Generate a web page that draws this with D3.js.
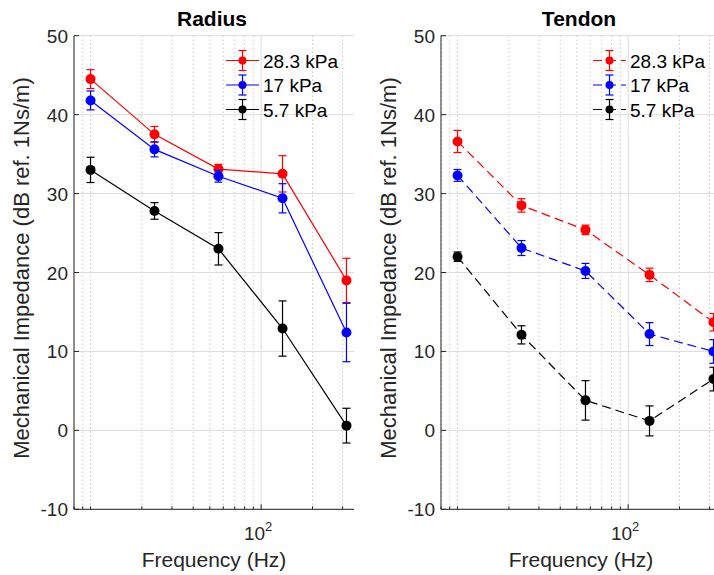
<!DOCTYPE html>
<html>
<head>
<meta charset="utf-8">
<script src="https://cdn.jsdelivr.net/npm/d3@7"></script>
<style>
  body { margin: 0; background: #fff; }
  svg { display: block; }
  text { font-family: "Liberation Sans", Arial, Helvetica, sans-serif; }
</style>
</head>
<body>
<svg id="chart" width="714" height="575"></svg>
<script>
// Stimulation frequencies (Hz)
const frequencies = [10, 23.7, 56.2, 133.4, 316.2];
const seriesLabels = ["28.3 kPa", "17 kPa", "5.7 kPa"];
const seriesColors = ["#ff0000", "#0000ff", "#000000"];

// Radius site: mean impedance and error (dB ref. 1 Ns/m)
const radiusHigh = [44.5, 37.5, 33.1, 32.5, 19.0];
const radiusHighErr = [1.2, 1.0, 0.6, 2.3, 2.8];
const radiusMid = [41.8, 35.6, 32.2, 29.4, 12.4];
const radiusMidErr = [1.2, 0.95, 0.75, 1.85, 3.7];
const radiusLow = [33.0, 27.8, 23.0, 12.9, 0.6];
const radiusLowErr = [1.6, 1.05, 2.05, 3.5, 2.2];

// Tendon site
const tendonHigh = [36.6, 28.5, 25.4, 19.7, 13.7];
const tendonHighErr = [1.4, 0.85, 0.6, 0.85, 1.1];
const tendonMid = [32.3, 23.1, 20.2, 12.2, 10.0];
const tendonMidErr = [0.75, 0.95, 0.95, 1.45, 1.5];
const tendonLow = [22.0, 12.1, 3.8, 1.2, 6.5];
const tendonLowErr = [0.6, 1.15, 2.5, 1.9, 1.5];

// Axis ticks
const yTicks = [-10, 0, 10, 20, 30, 40, 50];
const xMajorTicks = [100];
const xMinorTicks = [8, 9, 10, 20, 30, 40, 50, 60, 70, 80, 90, 200, 300];
const xDomain = [8, 350];
const yDomain = [-10, 50];

const svg = d3.select("#chart");
svg.append("rect").attr("width", 714).attr("height", 575).attr("fill", "#fff");

const axisColor = "#262626";
const plotTop = 35.7, plotBottom = 509.3;

function buildSeries(means, errs) {
  return frequencies.map((f, i) => ({ f, v: means[i], e: errs[i] }));
}

function drawPanel(opts) {
  const { x0, x1, title, series, dashed } = opts;
  const x = d3.scaleLog().domain(xDomain).range([x0, x1]);
  const y = d3.scaleLinear().domain(yDomain).range([plotBottom, plotTop]);
  const g = svg.append("g");

  // Minor x grid (dotted)
  g.append("g").selectAll("line").data(xMinorTicks).join("line")
    .attr("x1", d => x(d)).attr("x2", d => x(d))
    .attr("y1", plotTop).attr("y2", plotBottom)
    .attr("stroke", "#b4b4b4").attr("stroke-width", 1)
    .attr("stroke-dasharray", "1,3");

  // Major grid
  g.append("g").selectAll("line").data(yTicks).join("line")
    .attr("x1", x0).attr("x2", x1)
    .attr("y1", d => y(d)).attr("y2", d => y(d))
    .attr("stroke", "#dcdcdc").attr("stroke-width", 1);
  g.append("g").selectAll("line").data(xMajorTicks).join("line")
    .attr("x1", d => x(d)).attr("x2", d => x(d))
    .attr("y1", plotTop).attr("y2", plotBottom)
    .attr("stroke", "#dcdcdc").attr("stroke-width", 1);

  // Axes lines and inward ticks
  g.append("line").attr("x1", x0).attr("x2", x0).attr("y1", plotTop).attr("y2", plotBottom)
    .attr("stroke", axisColor).attr("stroke-width", 1);
  g.append("line").attr("x1", x0).attr("x2", x1).attr("y1", plotBottom).attr("y2", plotBottom)
    .attr("stroke", axisColor).attr("stroke-width", 1);
  g.append("g").selectAll("line").data(yTicks).join("line")
    .attr("x1", x0).attr("x2", x0 + 5)
    .attr("y1", d => y(d)).attr("y2", d => y(d))
    .attr("stroke", axisColor);
  g.append("g").selectAll("line").data(xMinorTicks).join("line")
    .attr("x1", d => x(d)).attr("x2", d => x(d))
    .attr("y1", plotBottom).attr("y2", plotBottom - 3)
    .attr("stroke", axisColor);
  g.append("g").selectAll("line").data(xMajorTicks).join("line")
    .attr("x1", d => x(d)).attr("x2", d => x(d))
    .attr("y1", plotBottom).attr("y2", plotBottom - 5)
    .attr("stroke", axisColor);

  // Tick labels
  g.append("g").selectAll("text").data(yTicks).join("text")
    .attr("x", x0 - 6).attr("y", d => y(d) + 7)
    .attr("text-anchor", "end").attr("font-size", 19).attr("fill", axisColor)
    .text(d => d);
  xMajorTicks.forEach(t => {
    const lbl = g.append("text").attr("x", x(t) - 3).attr("y", 540)
      .attr("text-anchor", "middle").attr("font-size", 19).attr("fill", axisColor);
    lbl.append("tspan").text("10");
    lbl.append("tspan").attr("font-size", 13).attr("dy", -9).text(String(Math.round(Math.log10(t))));
  });

  // Axis labels and title
  g.append("text").attr("x", (x0 + x1) / 2).attr("y", 567)
    .attr("text-anchor", "middle").attr("font-size", 21).attr("fill", axisColor)
    .text("Frequency (Hz)");
  g.append("text")
    .attr("transform", `translate(${x0 - 45},268) rotate(-90)`)
    .attr("text-anchor", "middle").attr("font-size", 22).attr("fill", axisColor)
    .text("Mechanical Impedance (dB ref. 1Ns/m)");
  g.append("text").attr("x", (x0 + x1) / 2 - 2).attr("y", 25.5)
    .attr("text-anchor", "middle").attr("font-size", 21).attr("font-weight", "bold")
    .attr("fill", "#000").text(title);

  // Data lines, error bars, markers
  const line = d3.line().x(d => x(d.f)).y(d => y(d.v));
  series.forEach((s, i) => {
    const color = seriesColors[i];
    const sg = g.append("g");
    sg.append("path").datum(s).attr("d", line)
      .attr("fill", "none").attr("stroke", color).attr("stroke-width", 1.2)
      .attr("stroke-dasharray", dashed ? "9,5" : null);
    const eb = sg.selectAll("g.eb").data(s).join("g").attr("class", "eb");
    eb.append("line")
      .attr("x1", d => x(d.f)).attr("x2", d => x(d.f))
      .attr("y1", d => y(d.v + d.e)).attr("y2", d => y(d.v - d.e))
      .attr("stroke", color).attr("stroke-width", 1.2);
    [1, -1].forEach(sgn => {
      eb.append("line")
        .attr("x1", d => x(d.f) - 4).attr("x2", d => x(d.f) + 4)
        .attr("y1", d => y(d.v + sgn * d.e)).attr("y2", d => y(d.v + sgn * d.e))
        .attr("stroke", color).attr("stroke-width", 1.2);
    });
    sg.selectAll("circle").data(s).join("circle")
      .attr("cx", d => x(d.f)).attr("cy", d => y(d.v)).attr("r", 5)
      .attr("fill", color);
  });

  // Legend
  const rows = [60.5, 85, 109.5];
  seriesLabels.forEach((label, i) => {
    const color = seriesColors[i];
    const ly = rows[i];
    const lg = g.append("g");
    lg.append("line").attr("x1", x0 + 152).attr("x2", x0 + 185)
      .attr("y1", ly).attr("y2", ly)
      .attr("stroke", color).attr("stroke-width", 1.2)
      .attr("stroke-dasharray", dashed ? "9,5" : null);
    const mx = x0 + 168.5;
    lg.append("line").attr("x1", mx).attr("x2", mx).attr("y1", ly - 10).attr("y2", ly + 10)
      .attr("stroke", color).attr("stroke-width", 1.2);
    [-10, 10].forEach(dy => {
      lg.append("line").attr("x1", mx - 4).attr("x2", mx + 4)
        .attr("y1", ly + dy).attr("y2", ly + dy)
        .attr("stroke", color).attr("stroke-width", 1.2);
    });
    lg.append("circle").attr("cx", mx).attr("cy", ly).attr("r", 4).attr("fill", color);
    lg.append("text").attr("x", x0 + 189).attr("y", ly + 7)
      .attr("font-size", 19).attr("fill", "#000").text(label);
  });
}

drawPanel({
  x0: 74, x1: 354, title: "Radius", dashed: false,
  series: [
    buildSeries(radiusHigh, radiusHighErr),
    buildSeries(radiusMid, radiusMidErr),
    buildSeries(radiusLow, radiusLowErr)
  ]
});

drawPanel({
  x0: 441, x1: 721, title: "Tendon", dashed: true,
  series: [
    buildSeries(tendonHigh, tendonHighErr),
    buildSeries(tendonMid, tendonMidErr),
    buildSeries(tendonLow, tendonLowErr)
  ]
});
</script>
</body>
</html>
